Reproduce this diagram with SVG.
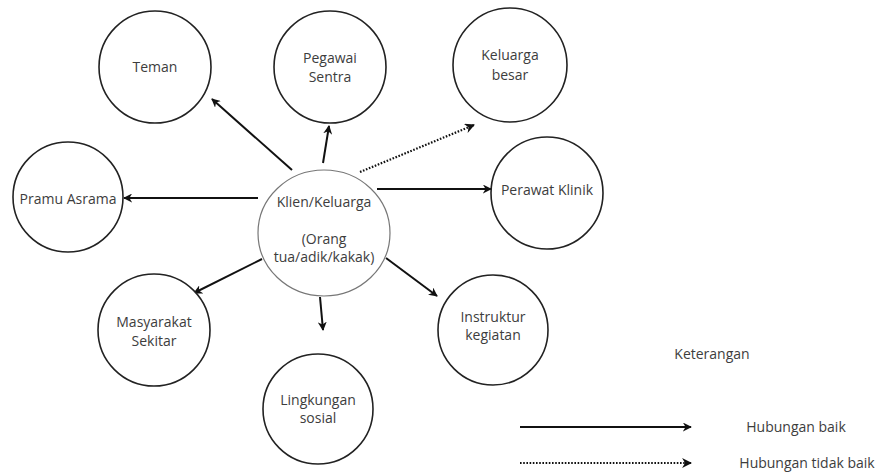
<svg xmlns="http://www.w3.org/2000/svg" width="880" height="474" viewBox="0 0 880 474">
<style>
.n{fill:#fff;stroke:#222;stroke-width:1.6}
.c{fill:#fff;stroke:#777;stroke-width:1.2}
text{font-family:"Open Sans","Liberation Sans",sans-serif;font-size:14px;fill:#3d3d3d;text-anchor:middle}
.e{stroke:#111;stroke-width:2;fill:none;marker-end:url(#ah)}
.d{stroke:#111;stroke-width:2.2;stroke-dasharray:1.6 1.6;fill:none;marker-end:url(#ah)}
</style>
<defs>
<marker id="ah" viewBox="0 0 10 10" refX="9" refY="5" markerWidth="4.5" markerHeight="4.5" orient="auto" markerUnits="strokeWidth">
<path d="M0,0 L10,5 L0,10 L3,5 Z" fill="#111"/>
</marker>
</defs>
<rect width="880" height="474" fill="#fff"/>
<g id="connectors">
<line class="e" x1="292" y1="170" x2="212" y2="99"/>
<line class="e" x1="323" y1="163" x2="329" y2="126"/>
<line class="d" x1="360" y1="172" x2="474" y2="125"/>
<line class="e" x1="377" y1="189" x2="491" y2="189"/>
<line class="e" x1="258" y1="198" x2="124" y2="198"/>
<line class="e" x1="262" y1="259" x2="194" y2="293"/>
<line class="e" x1="386" y1="258" x2="437" y2="296"/>
<line class="e" x1="320" y1="297" x2="323" y2="330"/>
</g>
<g id="teman"><circle class="n" cx="155" cy="67" r="56"/><text x="155" y="72">Teman</text></g>
<g id="pegawai"><circle class="n" cx="330" cy="67" r="56"/><text x="330" y="63">Pegawai</text><text x="330" y="82">Sentra</text></g>
<g id="keluarga-besar"><circle class="n" cx="510" cy="65" r="57"/><text x="510" y="60">Keluarga</text><text x="510" y="80">besar</text></g>
<g id="perawat"><circle class="n" cx="547" cy="193" r="56"/><text x="547" y="195">Perawat Klinik</text></g>
<g id="pramu"><circle class="n" cx="68" cy="197" r="55"/><text x="68" y="204">Pramu Asrama</text></g>
<g id="klien"><ellipse class="c" cx="324" cy="233" rx="66" ry="63"/><text x="324" y="207">Klien/Keluarga</text><text x="324" y="244">(Orang</text><text x="324" y="262">tua/adik/kakak)</text></g>
<g id="masyarakat"><circle class="n" cx="154" cy="330" r="56"/><text x="154" y="327">Masyarakat</text><text x="154" y="346">Sekitar</text></g>
<g id="instruktur"><circle class="n" cx="493" cy="330" r="55"/><text x="493" y="322">Instruktur</text><text x="493" y="340">kegiatan</text></g>
<g id="lingkungan"><circle class="n" cx="318" cy="409" r="55"/><text x="318" y="405">Lingkungan</text><text x="318" y="423">sosial</text></g>
<g id="legend">
<text x="712" y="359">Keterangan</text>
<line class="e" x1="520" y1="427" x2="691" y2="427"/>
<line class="d" x1="520" y1="463" x2="691" y2="463"/>
<text x="796" y="432">Hubungan baik</text>
<text x="807" y="468">Hubungan tidak baik</text>
</g>
</svg>
